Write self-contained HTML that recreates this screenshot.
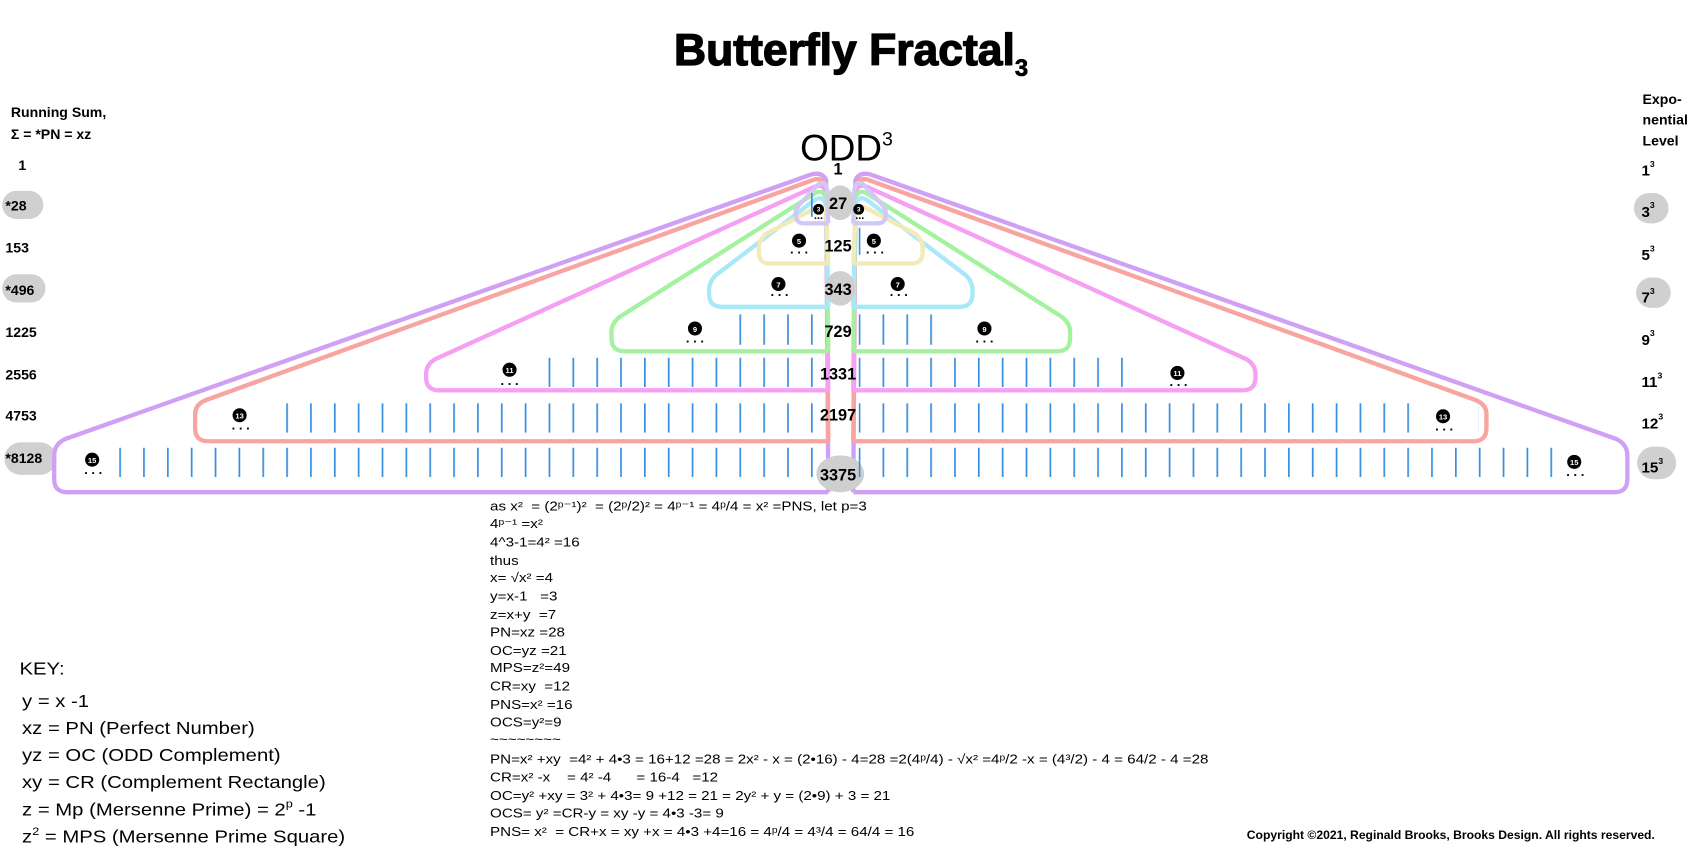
<!DOCTYPE html>
<html><head><meta charset="utf-8"><style>
html,body{margin:0;padding:0;background:#fff;width:1700px;height:850px;overflow:hidden}
svg{display:block}
text{font-family:"Liberation Sans",Arial,sans-serif}
.b{font-weight:bold}
</style></head><body>
<svg width="1700" height="850" viewBox="0 0 1568 784" preserveAspectRatio="none" xmlns="http://www.w3.org/2000/svg">
<defs>
<pattern id="tk" x="0" y="0" width="22" height="40" patternUnits="userSpaceOnUse">
<rect x="0" y="0" width="1.6" height="40" fill="#3a90e0"/>
</pattern>
</defs>
<text x="785" y="60" text-anchor="middle" class="b" font-size="41" stroke="#000" stroke-width="1.2">Butterfly Fractal<tspan font-size="22" dy="10" stroke-width="0.6">3</tspan></text>

<text x="10" y="108" class="b" font-size="13">Running Sum,</text>
<text x="10" y="128" class="b" font-size="13">Σ = *PN = xz</text>
<text x="1515" y="96" class="b" font-size="13">Expo-</text>
<text x="1515" y="115" class="b" font-size="13">nential</text>
<text x="1515" y="134" class="b" font-size="13">Level</text>

<rect x="2" y="176" width="38" height="26" rx="13" fill="#d0d0d0"/>
<rect x="2" y="253" width="40" height="26" rx="13" fill="#d0d0d0"/>
<rect x="4" y="408" width="48" height="30" rx="15" fill="#d0d0d0"/>
<g class="b" font-size="13">
<text x="17" y="157">1</text>
<text x="5" y="194">*28</text>
<text x="5" y="233">153</text>
<text x="5" y="272">*496</text>
<text x="5" y="311">1225</text>
<text x="5" y="350">2556</text>
<text x="5" y="388">4753</text>
<text x="5" y="427">*8128</text>
</g>
<rect x="1507" y="178" width="32" height="28" rx="14" fill="#d0d0d0"/>
<rect x="1509" y="256" width="32" height="28" rx="14" fill="#d0d0d0"/>
<rect x="1510" y="412" width="36" height="30" rx="15" fill="#d0d0d0"/>
<g class="b" font-size="14">
<text x="1514" y="162">1<tspan font-size="8" dy="-8">3</tspan></text>
<text x="1514" y="200">3<tspan font-size="8" dy="-8">3</tspan></text>
<text x="1514" y="240">5<tspan font-size="8" dy="-8">3</tspan></text>
<text x="1514" y="279">7<tspan font-size="8" dy="-8">3</tspan></text>
<text x="1514" y="318">9<tspan font-size="8" dy="-8">3</tspan></text>
<text x="1514" y="357">11<tspan font-size="8" dy="-8">3</tspan></text>
<text x="1514" y="395">12<tspan font-size="8" dy="-8">3</tspan></text>
<text x="1514" y="436">15<tspan font-size="8" dy="-8">3</tspan></text>
</g>

<text x="738" y="148" font-size="34">ODD<tspan font-size="18" dy="-14">3</tspan></text>

<g id="L" fill="none" stroke-width="4" stroke-linejoin="round">
<path stroke="#d0a0f5" d="M764,454 L62,454 Q50,454 50,442 L50,420 Q50,410 60,405 L748,161 Q758,158 762,166 L764,454"/>
<path stroke="#f8a4a0" d="M764,407 L192,407 Q180,407 180,395 L180,382 Q180,373 190,369 L750,166 Q758,163 762,172 L764,407"/>
<path stroke="#f5a0f2" d="M764,360 L405,360 Q393,360 393,348 L393,345 Q393,336 402,331 L752,172 Q760,169 762,178 L764,360"/>
<path stroke="#a4f2a0" d="M764,324 L576,324 Q564,324 564,312 L564,306 Q564,298 572,292 L752,178 Q760,174 762,184 L764,324"/>
<path stroke="#a8e8f8" d="M764,283 L666,283 Q654,283 654,271 L654,268 Q654,260 660,254 L752,184 Q760,180 762,190 L764,283"/>
<path stroke="#f2eab8" d="M764,243 L710,243 Q700,243 700,233 L700,228 Q700,222 706,216 L752,192 Q760,188 762,196 L764,243"/>
<path stroke="#d2c8f5" d="M764,206 L742,206 Q734,206 734,198 L734,196 Q734,192 738,188 L755,170 Q762,166 763,176 L764,206"/>
</g>
<use href="#L" transform="translate(1551,0) scale(-1,1)"/>

<ellipse cx="775" cy="187" rx="13" ry="16" fill="#cfcfcf"/>
<ellipse cx="775" cy="266" rx="14" ry="16" fill="#cfcfcf"/>
<ellipse cx="775" cy="437" rx="22" ry="17" fill="#cfcfcf"/>

<g fill="url(#tk)">
<rect x="62" y="413" width="2" height="27"/>
<rect x="106" y="413" width="652" height="27"/>
<rect x="792" y="413" width="640" height="27"/>
<rect x="1478" y="413" width="2" height="27"/>
<rect x="188" y="372" width="2" height="27"/>
<rect x="254" y="372" width="504" height="27"/>
<rect x="792" y="372" width="508" height="27"/>
<rect x="1362" y="372" width="2" height="27"/>
<rect x="432" y="330" width="2" height="27"/>
<rect x="496" y="330" width="262" height="27"/>
<rect x="792" y="330" width="260" height="27"/>
<rect x="1118" y="330" width="2" height="27"/>
<rect x="608" y="290" width="2" height="28"/>
<rect x="676" y="290" width="82" height="28"/>
<rect x="792" y="290" width="82" height="28"/>
<rect x="940" y="290" width="2" height="28"/>
<rect x="698" y="250" width="2" height="26"/>
<rect x="742" y="250" width="2" height="26"/>
<rect x="808" y="250" width="2" height="26"/>
<rect x="850" y="250" width="2" height="26"/>
<rect x="720" y="210" width="2" height="25"/>
<rect x="758" y="210" width="2" height="25"/>
<rect x="792" y="210" width="2" height="25"/>
<rect x="830" y="210" width="2" height="25"/>
<rect x="748" y="178" width="2" height="22"/>
<rect x="762" y="178" width="2" height="22"/>
<rect x="788" y="178" width="2" height="22"/>
<rect x="802" y="178" width="2" height="22"/>
<rect x="775" y="145" width="1.6" height="310"/>
</g>

<g font-size="7" class="b" text-anchor="middle">
<g fill="#000">
<circle cx="85" cy="424" r="6.5"/><circle cx="1452" cy="426" r="6.5"/>
<circle cx="221" cy="383" r="6.5"/><circle cx="1331" cy="384" r="6.5"/>
<circle cx="470" cy="341" r="6.5"/><circle cx="1086" cy="344" r="6.5"/>
<circle cx="641" cy="303" r="6.5"/><circle cx="908" cy="303" r="6.5"/>
<circle cx="718" cy="262" r="6.5"/><circle cx="828" cy="262" r="6.5"/>
<circle cx="737" cy="222" r="6.5"/><circle cx="806" cy="222" r="6.5"/>
<circle cx="755" cy="193" r="5"/><circle cx="792" cy="193" r="5"/>
</g>
<g fill="#fff">
<text x="85" y="427">15</text><text x="1452" y="429">15</text>
<text x="221" y="386">13</text><text x="1331" y="387">13</text>
<text x="470" y="344">11</text><text x="1086" y="347">11</text>
<text x="641" y="306">9</text><text x="908" y="306">9</text>
<text x="718" y="265">7</text><text x="828" y="265">7</text>
<text x="737" y="225">5</text><text x="806" y="225">5</text>
<text x="755" y="195" font-size="6">3</text><text x="792" y="195" font-size="6">3</text>
</g>
<g font-size="12" fill="#000">
<text x="86" y="437">. . .</text><text x="1453" y="439">. . .</text>
<text x="222" y="396">. . .</text><text x="1332" y="397">. . .</text>
<text x="470" y="355">. . .</text><text x="1087" y="356">. . .</text>
<text x="641" y="316">. . .</text><text x="908" y="316">. . .</text>
<text x="719" y="273">. . .</text><text x="829" y="273">. . .</text>
<text x="737" y="234">. . .</text><text x="807" y="234">. . .</text>
<text x="755" y="202" font-size="10">...</text><text x="793" y="202" font-size="10">...</text>
</g>
</g>

<g class="b" font-size="15" text-anchor="middle">
<text x="773" y="161">1</text>
<text x="773" y="193">27</text>
<text x="773" y="232">125</text>
<text x="773" y="272">343</text>
<text x="773" y="311">729</text>
<text x="773" y="350">1331</text>
<text x="773" y="388">2197</text>
<text x="773" y="443">3375</text>
</g>

<g font-size="12" transform="translate(452,0) scale(1.165,1) translate(-452,0)">
<text x="452" y="471">as x² &#160;= (2ᵖ⁻¹)² &#160;= (2ᵖ/2)² = 4ᵖ⁻¹ = 4ᵖ/4 = x² =PNS, let p=3</text>
<text x="452" y="487">4ᵖ⁻¹ =x²</text>
<text x="452" y="504">4^3-1=4² =16</text>
<text x="452" y="521">thus</text>
<text x="452" y="537">x= √x² =4</text>
<text x="452" y="554">y=x-1 &#160;&#160;=3</text>
<text x="452" y="571">z=x+y &#160;=7</text>
<text x="452" y="587">PN=xz =28</text>
<text x="452" y="604">OC=yz =21</text>
<text x="452" y="620">MPS=z²=49</text>
<text x="452" y="637">CR=xy &#160;=12</text>
<text x="452" y="654">PNS=x² =16</text>
<text x="452" y="670">OCS=y²=9</text>
<text x="452" y="686">~~~~~~~~</text>
<text x="452" y="704">PN=x² +xy &#160;=4² + 4•3 = 16+12 =28 = 2x² - x = (2•16) - 4=28 =2(4ᵖ/4) - √x² =4ᵖ/2 -x = (4³/2) - 4 = 64/2 - 4 =28</text>
<text x="452" y="721">CR=x² -x &#160;&#160;&#160;= 4² -4 &#160;&#160;&#160;&#160;&#160;= 16-4 &#160;&#160;=12</text>
<text x="452" y="738">OC=y² +xy = 3² + 4•3= 9 +12 = 21 = 2y² + y = (2•9) + 3 = 21</text>
<text x="452" y="754">OCS= y² =CR-y = xy -y = 4•3 -3= 9</text>
<text x="452" y="771">PNS= x² &#160;= CR+x = xy +x = 4•3 +4=16 = 4ᵖ/4 = 4³/4 = 64/4 = 16</text>
</g>

<g font-size="16" transform="translate(18,0) scale(1.17,1) translate(-18,0)">
<text x="18" y="622">KEY:</text>
<text x="20" y="652">y = x -1</text>
<text x="20" y="677">xz = PN (Perfect Number)</text>
<text x="20" y="702">yz = OC (ODD Complement)</text>
<text x="20" y="727">xy = CR (Complement Rectangle)</text>
<text x="20" y="752">z = Mp (Mersenne Prime) = 2<tspan font-size="10" dy="-7">p</tspan><tspan dy="7"> -1</tspan></text>
<text x="20" y="777">z<tspan font-size="10" dy="-7">2</tspan><tspan dy="7"> = MPS (Mersenne Prime Square)</tspan></text>
</g>
<text x="1150" y="774" class="b" font-size="11.2">Copyright ©2021, Reginald Brooks, Brooks Design. All rights reserved.</text>
</svg>
</body></html>
